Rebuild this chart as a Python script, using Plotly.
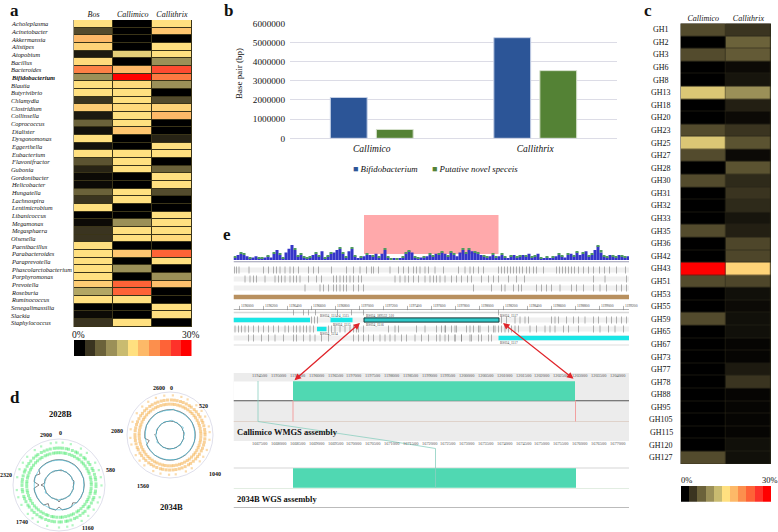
import numpy as np
import plotly.graph_objects as go

W, H = 778, 532
SERIF = "Liberation Serif"

# ---- panel a: genus abundance (%)
genera = ["Acholeplasma", "Acinetobacter", "Akkermansia", "Alistipes", "Atopobium", "Bacillus", "Bacteroides",
          "Bifidobacterium", "Blautia", "Butyrivibrio", "Chlamydia", "Clostridium", "Collinsella", "Coprococcus",
          "Dialister", "Dysgonomonas", "Eggerthella", "Eubacterium", "Flavonifractor", "Gubonia", "Gordonibacter",
          "Helicobacter", "Hungatella", "Lachnospira", "Lentimicrobium", "Libanicoccus", "Megamonas", "Megasphaera",
          "Olsenella", "Paenibacillus", "Parabacteroides", "Paraprevotella", "Phascolarctobacterium", "Porphyromonas",
          "Prevotella", "Roseburia", "Ruminococcus", "Senegalimassilia", "Slackia", "Staphylococcus"]
hosts_a = ["Bos", "Callimico", "Callithrix"]
bos = [15, 4.5, 18, 16, 1.5, 15.5, 22, 9, 15, 15, 3, 16.5, 1.5, 6, 1, 15, 1, 15, 5, 2, 0.6, 0.6, 6, 3, 15, 0, 0.6, 3,
       3, 15, 15, 15, 15, 15, 16.5, 10.5, 15, 0, 0.6, 3]
callimico_a = [0, 0, 0, 0, 13.5, 0, 18, 30, 15.5, 15, 15, 15.5, 15, 15, 17, 0, 0, 15, 15, 15, 0, 0, 15, 15, 0, 0, 9,
               15, 15, 0, 17, 0, 9, 0, 24, 24, 15, 0, 0, 15]
callithrix_a = [15, 17, 0, 15, 15, 9, 25.5, 22.5, 9, 0, 4.5, 16, 18, 0, 0, 2, 15, 15, 0, 6, 15, 15, 4.5, 0, 0, 15, 15,
                15, 15.5, 0, 24, 15, 0, 9, 17.5, 0, 0, 15, 15, 0]

# ---- panel b: assembled base pairs
hosts_b = ["Callimico", "Callithrix"]
bifido_bp = [2130000, 5250000]
novel_bp = [460000, 3530000]

# ---- panel c: glycoside hydrolase families (%)
gh_families = ["GH1", "GH2", "GH3", "GH6", "GH8", "GH13", "GH18", "GH20", "GH23", "GH25", "GH27", "GH28", "GH30", "GH31",
               "GH32", "GH33", "GH35", "GH36", "GH42", "GH43", "GH51", "GH53", "GH55", "GH59", "GH65", "GH67", "GH73",
               "GH77", "GH78", "GH88", "GH95", "GH105", "GH115", "GH120", "GH127"]
hosts_c = ["Callimico", "Callithrix"]
callimico_c = [4.5, 0, 4.5, 0, 0, 13, 0, 0, 4.5, 13, 4.5, 0, 4.5, 0, 0, 0, 4.5, 0, 0, 30, 4.5, 0, 0, 4.5, 0, 0, 0, 0, 0,
               0, 0, 0, 0, 0, 4.5]
callithrix_c = [3, 6, 5.5, 0.6, 1.2, 9, 1.8, 0.6, 3, 5, 0.6, 5, 2.4, 3, 2.4, 1.2, 1.8, 4.2, 4.2, 16, 4.2, 0.9, 0.6, 0.9,
                0.9, 0.3, 0.3, 1.5, 3, 0.3, 0.3, 0.3, 0.3, 0.9, 0.9]

scale_steps = [0, 3, 6, 9, 12, 15, 18, 21, 24, 27, 30]
scale_colors = ["#000000", "#3a3420", "#6b623a", "#9b9058", "#c9bb70", "#ffe080", "#fdb968", "#fc8f4d", "#fe6337",
                "#fe322a", "#ff0000"]

# ---- panel d: circular genome tracks, positions in kb
green_outer = [40, 130, 250, 330, 470, 560, 640, 730, 860, 920, 1010, 1100, 1190, 1300, 1360, 1450, 1580, 1690, 1760,
               1830, 1950, 2040, 2120, 2260, 2350, 2430, 2510, 2620, 2700, 2810, 2870]
green_mid = [10, 45, 90, 120, 170, 215, 240, 290, 340, 365, 420, 455, 510, 540, 590, 630, 660, 710, 745, 800, 830, 885,
             915, 960, 1010, 1035, 1090, 1125, 1170, 1215, 1250, 1300, 1340, 1365, 1420, 1450, 1505, 1540, 1580, 1620,
             1670, 1700, 1745, 1790, 1830, 1880, 1910, 1960, 2000, 2030, 2090, 2120, 2170, 2210, 2245, 2290, 2340, 2370,
             2420, 2460, 2500, 2550, 2590, 2620, 2670, 2710, 2750, 2790, 2840, 2875]
green_inner = [25, 70, 100, 150, 190, 230, 275, 310, 360, 395, 435, 480, 520, 555, 610, 645, 690, 725, 775, 815, 850,
               900, 940, 975, 1020, 1060, 1105, 1150, 1180, 1235, 1270, 1310, 1355, 1400, 1430, 1480, 1525, 1555, 1610,
               1640, 1685, 1725, 1770, 1810, 1850, 1895, 1940, 1975, 2020, 2065, 2100, 2150, 2190, 2225, 2275, 2310,
               2355, 2400, 2435, 2480, 2525, 2565, 2610, 2645, 2695, 2730, 2770, 2820, 2855, 2890]
orange_outer = [30, 120, 190, 300, 380, 450, 560, 620, 700, 810, 890, 950, 1060, 1130, 1240, 1310, 1400, 1480, 1590,
                1660, 1730, 1850, 1920, 2010, 2090, 2190, 2280, 2360, 2450, 2540]
orange_mid = [15, 50, 85, 125, 160, 200, 240, 270, 315, 350, 390, 425, 470, 500, 540, 585, 620, 650, 695, 735, 770, 810,
              845, 890, 925, 960, 1000, 1040, 1070, 1115, 1155, 1190, 1230, 1265, 1305, 1345, 1385, 1415, 1460, 1500,
              1535, 1570, 1615, 1650, 1690, 1725, 1770, 1800, 1845, 1885, 1920, 1955, 2000, 2035, 2075, 2110, 2150, 2190,
              2225, 2265, 2300, 2345, 2380, 2420, 2455, 2495, 2530, 2570]
orange_inner = [30, 65, 105, 140, 180, 215, 255, 295, 330, 370, 405, 445, 485, 520, 560, 600, 635, 675, 715, 750, 790,
                825, 865, 905, 940, 980, 1020, 1055, 1095, 1135, 1170, 1210, 1250, 1285, 1325, 1365, 1400, 1440, 1480,
                1515, 1555, 1595, 1630, 1670, 1710, 1745, 1785, 1825, 1860, 1900, 1940, 1975, 2015, 2055, 2090, 2130,
                2170, 2205, 2245, 2285, 2320, 2360, 2400, 2435, 2475, 2515, 2550, 2590]

gc_a_black = [25.3, 25.4, 25.3, 25.4, 25.3, 25.5, 25.4, 25.3, 25.4, 25.2, 25.3, 25.2, 25.3, 25.1, 25.2, 25.0, 25.2, 25.0,
              25.2, 22.5, 25.2, 25.1, 25.2, 25.0, 22, 25.2, 25.1, 25.2, 21.5, 25.2, 25.3, 25.2, 25.3, 25.1, 25.3, 25.2,
              20, 25.2, 25.3, 25.2, 22, 25.3, 25.4, 25.3, 25.4, 25.3, 25.4, 25.4]
gc_a_blue = [24.9, 25.0, 24.8, 24.9, 24.8, 24.9, 25.0, 24.8, 24.9, 24.8, 25.6, 24.8, 24.9, 24.8, 25.4, 24.8, 24.9, 24.8,
             24.9, 24.7, 24.8, 25.3, 24.8, 24.9, 24.8, 24.9, 24.7, 24.8, 24.8, 24.9, 25.5, 24.8, 24.9, 24.8, 24.9, 24.8,
             24.8, 24.7, 24.9, 24.8, 24.9, 24.8, 25.2, 24.8, 24.9, 24.8, 24.9, 24.8]
skew_a_black = [14.8, 14.4, 14.9, 14.5, 14.7, 14.3, 14.8, 14.5, 14.7, 14.4, 15.6, 14.5, 14.7, 14.3, 14.8, 14.4, 14.7,
                14.5, 14.8, 14.4, 14.9, 14.4, 14.7, 14.5, 17, 14.4, 14.7, 14.5, 14.8, 14.3, 14.7, 14.5, 14.7, 14.4,
                14.9, 14.5, 18, 14.5, 14.7, 14.4, 14.8, 14.5, 14.7, 14.5, 14.9, 14.3, 14.7, 14.5]
skew_a_blue = [14.6, 15.8, 14.7, 14.4, 15.2, 14.6, 14.4, 14.9, 14.7, 14.3, 14.6, 15.7, 14.5, 14.4, 15.1, 14.7, 14.4,
               14.7, 15.4, 14.5, 14.3, 14.8, 14.7, 14.4, 14.6, 15.6, 14.5, 14.4, 14.9, 14.7, 14.3, 14.6, 15.9, 14.6,
               14.4, 15.0, 14.6, 14.3, 14.8, 15.5, 14.5, 14.3, 14.8, 14.7, 14.4, 15.2, 14.7, 14.4]
gc_b_black = [27.1, 27.2, 27.0, 27.2, 27.1, 27.2, 27.1, 27.2, 27.0, 27.1, 27.0, 27.1, 27.0, 27.1, 26.9, 27.0, 26.9, 27.0,
              26.9, 27.0, 26.9, 27.0, 26.9, 27.0, 26.9, 27.0, 26.9, 27.0, 26.9, 27.0, 26.9, 27.0, 27.0, 27.1, 23, 27.1,
              27.0, 27.1, 27.0, 27.2, 27.1, 27.2, 27.1, 27.2, 27.1, 27.2, 27.1, 27.2]
gc_b_blue = [26.6, 27.8, 26.6, 26.5, 26.6, 26.5, 26.6, 26.5, 27.3, 26.5, 26.6, 26.5, 26.6, 26.5, 27.2, 26.5, 26.6, 26.5,
             26.6, 26.5, 26.5, 26.6, 27.0, 26.5, 26.6, 26.5, 26.6, 26.5, 26.5, 27.1, 26.6, 26.5, 26.6, 26.5, 26.5, 26.6,
             26.5, 26.6, 26.5, 27.2, 26.5, 26.6, 26.5, 26.6, 27.4, 26.5, 26.6, 26.5]
skew_b_black = [15.0, 14.6, 15.1, 14.7, 14.9, 14.5, 15.0, 14.7, 14.9, 14.6, 15.0, 14.7, 14.9, 14.5, 15.0, 14.6, 14.8,
                14.7, 15.0, 14.6, 15.1, 14.6, 14.9, 14.7, 15.0, 14.6, 14.9, 14.7, 15.0, 14.5, 14.9, 14.7, 14.8, 14.6,
                15.0, 14.7, 16.5, 14.7, 14.9, 14.6, 15.0, 14.7, 14.9, 14.7, 15.1, 14.5, 14.9, 14.7]
skew_b_blue = [14.8, 16.0, 15.0, 14.6, 15.5, 14.8, 14.6, 15.2, 16.4, 14.5, 14.8, 15.9, 14.7, 14.6, 15.4, 14.9, 14.6,
               15.0, 15.6, 14.7, 14.5, 15.1, 15.0, 14.6, 14.8, 15.8, 14.7, 14.6, 15.2, 15.0, 14.5, 14.8, 16.1, 14.8,
               14.6, 15.3, 14.8, 14.5, 15.0, 15.7, 14.7, 14.5, 15.0, 15.0, 14.6, 15.5, 14.9, 14.6]

# ---- panel e: browser tracks
coverage_blue = [2, 4, 5, 4, 3, 1, 2, 3, 1, 1, 2, 3, 2, 5, 8, 4, 1, 6, 9, 12, 8, 3, 4, 2, 1, 2, 4, 5, 3, 7, 1,
                 3, 5, 6, 8, 9, 5, 2, 7, 9, 3, 1, 2, 3, 4, 4, 3, 5, 2, 5, 8, 2, 0, 1, 0, 1, 2, 5, 7, 6, 2, 1, 2,
                 2, 3, 4, 3, 5, 4, 6, 5, 3, 6, 4, 3, 6, 8, 5, 8, 7, 6, 5, 4, 3, 2, 3, 4, 2, 3, 4, 2, 1,
                 3, 4, 2, 3, 4, 3, 5, 2, 3, 5, 1, 1, 2, 1, 2, 3, 4, 3, 2, 4, 5, 3, 6, 4, 5, 7, 3, 4, 8, 11, 6, 3,
                 2, 4, 3, 2, 4, 3, 2, 3]
coverage_green = [1, 0, 1, 1, 0, 1, 0, 0, 1, 1, 0, 1, 0, 1, 0, 1, 1, 0, 0, 0, 1, 1, 1, 1, 1, 1, 0, 1, 1, 0, 1,
                  1, 1, 0, 0, 1, 1, 1, 0, 1, 1, 0, 1, 0, 1, 0, 1, 0, 1, 0, 1, 1, 1, 0, 1, 0, 1, 1, 1, 0, 1, 1, 0,
                  1, 0, 1, 1, 0, 1, 1, 0, 1, 1, 1, 0, 0, 1, 1, 1, 0, 1, 1, 0, 1, 1, 0, 1, 1, 0, 1, 1, 0,
                  1, 0, 1, 1, 0, 1, 0, 1, 1, 0, 1, 0, 1, 0, 1, 0, 1, 1, 0, 1, 0, 1, 1, 0, 1, 0, 1, 1, 0, 1, 2, 1,
                  1, 0, 1, 1, 0, 1, 1, 0]

reads_1 = [1, 3, 5.5, 15.5, 30, 35, 40, 43, 46.5, 51.5, 56.5, 60, 65, 75, 80, 85, 98, 113, 120, 126.5, 133, 138, 140,
           145, 156.5, 165, 170, 175, 180, 183, 186.5, 191.5, 195, 201.5, 210, 225, 231.5, 236.5, 240, 245, 250, 265,
           268, 271, 274, 277, 280, 283, 286, 289, 293, 296, 300, 303, 310, 323, 326, 329, 332, 335, 338, 341, 345,
           350, 355, 360, 366, 371, 376, 383, 392]
reads_2 = [11.5, 16.5, 20, 23, 31.5, 41.5, 45, 48, 51.5, 56.5, 60, 63, 66.5, 75, 83, 88, 100, 103, 106.5, 110, 113,
           116.5, 120, 125, 128, 161.5, 166.5, 171.5, 175, 180, 185, 191.5, 196.5, 200, 203, 206.5, 211.5, 218, 223,
           228, 234, 238, 248, 255, 260, 265, 275, 283, 291, 360, 371.5, 393]
reads_3 = [71.5, 86.5, 90, 95, 100, 103, 106.5, 110, 113, 120, 125, 130, 240, 258, 268, 271.5, 280, 285, 288, 303, 308,
           313, 318, 326.5, 338, 343, 350, 360, 366.5, 373, 383, 388, 393]
genes_1 = [78, 81, 84, 268, 273, 281.5, 286.5, 291.5, 295, 318, 321.5, 325, 333, 340, 345, 351.5, 360, 365, 373, 378,
           383, 388, 393]
genes_2 = [1.5, 5, 8, 11.5, 15, 20, 25, 30, 35, 40, 45, 51.5, 55, 60, 63, 66.5, 70, 73, 76.5, 80, 95, 98, 101.5, 106.5,
           111.5, 116.5, 120, 123, 125, 130, 155, 161.5, 165, 183, 191.5, 211.5, 221.5, 236.5, 245, 255, 261.5, 265,
           268, 275, 281.5, 285, 203, 208, 212, 218, 223, 233, 240, 246.5, 260, 271.5, 278, 296.5, 303, 311.5, 316.5,
           321.5, 330, 335, 345, 360, 366.5, 375, 381.5, 390]
genes_3 = [15, 20, 28, 35, 41.5, 50, 60, 63, 70, 76.5, 81.5, 88, 95, 120, 125, 130, 135, 140, 146.5, 151.5, 156.5,
           161.5, 168, 173, 181.5, 188, 195, 203, 211.5, 221.5, 228, 238, 245, 255, 206.5, 215, 221.5, 228, 236.5, 248,
           258]
small_boxes = [60, 70, 75, 82, 104, 118, 130, 265]
cyan_start = [0, 97, 83.5, 265]
cyan_end = [76.5, 119, 93, 395.5]
cyan_row = [105, 105, 114, 123]
block_start = [130.5]
block_end = [265.5]
block_row = [105]
synteny_start = [59.5, 59.5]
synteny_end = [341.5, 342.5]
synteny_row = [176, 263]
wmgs_ticks = ["1194000", "1194500", "1195000", "1195500", "1196000", "1196500", "1197000", "1197500", "1198000",
              "1198500", "1199000", "1199500", "1200000", "1200500", "1201000", "1201500", "1202000", "1202500",
              "1203000", "1203500", "1204000"]
wgs_ticks = ["1667000", "1667500", "1668000", "1668500", "1669000", "1669500", "1670000", "1670500", "1671000",
             "1671500", "1672000", "1672500", "1673000", "1673500", "1674000", "1674500", "1675000", "1675500",
             "1676000", "1676500", "1677000"]
ruler_ticks = ["1196000", "1196200", "1196400", "1196600", "1196800", "1197000", "1197200", "1197400", "1197600",
               "1197800", "1198000", "1198200", "1198400", "1198600", "1198800", "1199000", "1199200"]
gene_names = ["162_151", "BS034_1514-4_1515", "BS034_189532_510", "BS034_1517", "54_1515", "BS034_1515", "BS034_1516",
              "152", "BS034_1514", "BS034_1517"]
gene_name_x = [-0.5, 85, 131, 265, -0.5, 98, 131, -0.5, 85, 265]
gene_name_y = [101, 101, 101, 101, 110, 110, 110, 119, 119, 128]


def xdom(a, b):
    return [a / W, b / W]


def ydom(top, bottom):
    return [1 - bottom / H, 1 - top / H]


def px(x):
    return x / W


def py(y):
    return 1 - y / H


def text(x, y, s, size=8, bold=False, italic=False, anchor="center", color="#111", xref="paper", yref="paper"):
    if bold:
        s = "<b>" + s + "</b>"
    if italic:
        s = "<i>" + s + "</i>"
    return dict(x=x, y=y, text=s, showarrow=False, xref=xref, yref=yref, xanchor=anchor, yanchor="middle",
                borderpad=0, font=dict(family=SERIF, size=size, color=color))


colorscale = [[s / 30, c] for s, c in zip(scale_steps, scale_colors)]
fig = go.Figure()
hidden = dict(visible=False, fixedrange=True, automargin=False)
annos = []
shapes = []

# panel a
fig.add_trace(go.Heatmap(z=np.array([bos, callimico_a, callithrix_a]).T, x=hosts_a, y=genera, zmin=0, zmax=30,
                         colorscale=colorscale, showscale=False, xgap=1, ygap=1, xaxis="x", yaxis="y"))
for g in genera:
    annos.append(text(px(9.5), g, g, size=6.4, italic=True, bold=g == "Bifidobacterium", anchor="left", yref="y"))
shapes.append(dict(type="rect", xref="paper", yref="paper", x0=px(73.5), x1=px(192), y0=py(20), y1=py(327),
                   fillcolor="#3a3418", line_width=0, layer="below"))

# colour key for a
fig.add_trace(go.Heatmap(z=[scale_steps], zmin=0, zmax=30, colorscale=colorscale, showscale=False, xaxis="x2", yaxis="y2"))
annos += [text(px(78.5), py(334.5), "0%", size=9.5), text(px(191), py(334.5), "30%", size=9.5)]

# panel b
fig.add_trace(go.Bar(x=hosts_b, y=bifido_bp, name="Bifidobacterium", marker=dict(color="#2c5597", line=dict(color="#c5d0e6", width=1)),
                     xaxis="x3", yaxis="y3"))
fig.add_trace(go.Bar(x=hosts_b, y=novel_bp, name="Putative novel speceis", marker=dict(color="#548235", line=dict(color="#d5e0cc", width=1)),
                     xaxis="x3", yaxis="y3"))
annos.append(text(px(239), py(74), "Base pair (bp)", size=9))
annos[-1]["textangle"] = -90
annos.append(text(px(352), py(169), "<span style='color:#2c5597'>■</span> <i>Bifidobacterium</i>", size=8.8, anchor="left"))
annos.append(text(px(431.5), py(169), "<span style='color:#548235'>■</span> <i>Putative novel speceis</i>", size=8.8, anchor="left"))

# panel c
fig.add_trace(go.Heatmap(z=np.array([callimico_c, callithrix_c]).T, x=hosts_c, y=gh_families, zmin=0, zmax=30,
                         colorscale=colorscale, showscale=False, xgap=0.6, ygap=0.6, xaxis="x4", yaxis="y4"))
for g in gh_families:
    annos.append(text(px(661), g, g, size=8, yref="y4"))
shapes.append(dict(type="rect", xref="paper", yref="paper", x0=px(680.5), x1=px(771), y0=py(23.5), y1=py(464),
                   fillcolor="#2a2718", line_width=0, layer="below"))
fig.add_trace(go.Heatmap(z=[scale_steps], zmin=0, zmax=30, colorscale=colorscale, showscale=False, xaxis="x5", yaxis="y5"))
annos += [text(px(686), py(480), "0%", size=8.5), text(px(770), py(480), "30%", size=8.5)]


# panel d
def ring(sub, values, color, width=0.55):
    closed = list(values) + [values[0]]
    theta = np.linspace(0, 360, len(closed))
    fig.add_trace(go.Scatterpolar(r=closed, theta=theta, mode="lines", line=dict(color=color, width=width),
                                  subplot=sub, hoverinfo="skip"))


def genes(sub, positions, r, genome, color, size, opacity):
    fig.add_trace(go.Scatterpolar(r=[r] * len(positions), theta=[p * 360 / genome for p in positions], mode="markers",
                                  marker=dict(symbol="square", size=size, color=color, opacity=opacity, line_width=0),
                                  subplot=sub, hoverinfo="skip"))


genes("polar", green_outer, 42.5, 2900, "#55ea78", 2.2, 0.45)
genes("polar", green_mid, 37, 2900, "#3fe866", 3, 0.5)
genes("polar", green_inner, 32.3, 2900, "#3fe866", 3, 0.5)
ring("polar", gc_a_black, "#222")
ring("polar", gc_a_blue, "#29b6d8")
ring("polar", skew_a_black, "#222")
ring("polar", skew_a_blue, "#29b6d8")
genes("polar2", orange_outer, 42.5, 2600, "#f5b04a", 2.2, 0.45)
genes("polar2", orange_mid, 37.5, 2600, "#f3a535", 3, 0.5)
genes("polar2", orange_inner, 33, 2600, "#f3a535", 3, 0.5)
ring("polar2", gc_b_black, "#222")
ring("polar2", gc_b_blue, "#29b6d8")
ring("polar2", skew_b_black, "#222")
ring("polar2", skew_b_blue, "#29b6d8")
for x, y, s in [(60, 433, "0"), (46, 435, "2900"), (110, 470, "580"), (88, 528, "1160"), (22, 522, "1740"), (6, 475, "2320"),
                (159, 388, "2600"), (171, 388, "0"), (203, 406, "520"), (215, 474, "1040"), (143, 486, "1560"), (117, 431, "2080")]:
    annos.append(text(px(x), py(y), s, size=6, bold=True))
annos += [text(px(60), py(414), "2028B", size=8.5, bold=True), text(px(171), py(507), "2034B", size=8.5, bold=True)]

# panel e, x is position along the window, y counts down from the top of the panel
fig.add_trace(go.Bar(x=np.arange(len(coverage_blue)) * 3, y=coverage_blue, width=3, offset=0, marker=dict(color="#3535c8", line_width=0),
                     xaxis="x7", yaxis="y7"))
fig.add_trace(go.Bar(x=np.arange(len(coverage_blue)) * 3, y=coverage_green, base=coverage_blue, width=3, offset=0,
                     marker=dict(color="#4f9a60", line_width=0), xaxis="x7", yaxis="y7"))


def band(y, height, color):
    shapes.append(dict(type="rect", xref="x6", yref="y6", x0=0, x1=395.5, y0=y - height / 2, y1=y + height / 2,
                       fillcolor=color, line_width=0, layer="below"))


def ticks(positions, row, color="#777777", size=5):
    fig.add_trace(go.Scatter(x=positions, y=[row] * len(positions), mode="markers", xaxis="x6", yaxis="y6", hoverinfo="skip",
                             marker=dict(symbol="line-ns", size=size, line=dict(color=color, width=0.8), opacity=0.7)))


shapes.append(dict(type="rect", xref="x6", yref="y6", x0=130.5, x1=265, y0=0, y1=39, fillcolor="#ffa9ab", line_width=0, layer="below"))
band(46.7, 1, "#9a9ab0")
for row in (55, 64, 73, 105, 114, 123):
    band(row, 5, "#f0f0f0")
band(82, 4.5, "#b8905f")
band(94.3, 0.7, "#999999")
band(97.5, 1.5, "#d8d8d8")
band(130, 0.7, "#bbbbbb")
ticks(reads_1, 55)
ticks(reads_2, 64)
ticks(reads_3, 73)
ticks(genes_1, 105)
ticks(genes_2, 114)
ticks(genes_3, 123)
ticks(small_boxes, 97.5, size=4)
ticks(np.arange(len(ruler_ticks)) * 24 + 6, 93, size=3)

fig.add_trace(go.Bar(y=cyan_row, x=np.array(cyan_end) - np.array(cyan_start), base=cyan_start, orientation="h", width=4.5, offset=-2.25,
                     marker=dict(color="#19e6e6", line_width=0), xaxis="x6", yaxis="y6"))
fig.add_trace(go.Bar(y=block_row, x=np.array(block_end) - np.array(block_start), base=block_start, orientation="h", width=4.2, offset=-2.1,
                     marker=dict(color="#2fc8c8", line=dict(color="#153a3a", width=1)), xaxis="x6", yaxis="y6"))

for name, gx, gy in zip(gene_names, gene_name_x, gene_name_y):
    annos.append(text(gx, gy, name, size=3.4, anchor="left", color="#444", xref="x6", yref="y6"))
for i, lab in enumerate(ruler_ticks):
    annos.append(text(i * 24 + 6.5, 90.5, lab, size=3.6, anchor="left", color="#444", xref="x6", yref="y6"))

# alignment views
shapes.append(dict(type="rect", xref="x6", yref="y6", x0=0, x1=395.5, y0=158, y1=226, fillcolor="#ececec", line_width=0, layer="below"))
shapes.append(dict(type="rect", xref="x6", yref="y6", x0=0, x1=59.5, y0=166.5, y1=185.5, fillcolor="#ffffff", line_width=0, layer="below"))
band(185.7, 0.9, "#555555")
band(206.5, 0.6, "#d2b8a8")
band(253, 0.7, "#aaaaaa")
band(273.5, 0.6, "#c5dcc5")
band(292.5, 0.8, "#bbbbbb")
fig.add_trace(go.Bar(y=synteny_row, x=np.array(synteny_end) - np.array(synteny_start), base=synteny_start, orientation="h", width=19.5, offset=-9.75,
                     marker=dict(color="#50d8b2", line_width=0), xaxis="x6", yaxis="y6"))
fig.add_trace(go.Scatter(x=[24.5, 24.5, 149.5, 202, 202], y=[166, 206.5, 225, 233.5, 273], mode="lines",
                         line=dict(color="#8ccfc0", width=0.8), xaxis="x6", yaxis="y6", hoverinfo="skip"))
for bx in (59.5, 342):
    fig.add_trace(go.Scatter(x=[bx, bx], y=[185.5, 206.5], mode="lines", line=dict(color="#f2a0a0", width=1),
                             xaxis="x6", yaxis="y6", hoverinfo="skip"))
for i, lab in enumerate(wmgs_ticks):
    annos.append(text(i * 18.8 - 1, 160.5, lab, size=4.4, anchor="left", color="#555", xref="x6", yref="y6"))
for i, lab in enumerate(wgs_ticks):
    annos.append(text(i * 18.8 - 1, 228.5, lab, size=4.4, anchor="left", color="#555", xref="x6", yref="y6"))
annos.append(text(2.5, 217, "Callimico WMGS assembly", size=8.5, bold=True, anchor="left", xref="x6", yref="y6"))
annos.append(text(2.5, 284, "2034B WGS assembly", size=8.5, bold=True, anchor="left", xref="x6", yref="y6"))

for head, tail in [((126.5, 108), (59.5, 166.5)), ((269.5, 108), (341.5, 165))]:
    annos.append(dict(x=head[0], y=head[1], ax=tail[0], ay=tail[1], xref="x6", yref="y6", axref="x6", ayref="y6", text="",
                      showarrow=True, arrowhead=2, arrowside="end+start", arrowsize=1, arrowwidth=1.3, arrowcolor="#e0242a"))

for x, y, s in [(14, 10, "a"), (228, 10, "b"), (648, 10, "c"), (15, 397, "d"), (227, 235, "e")]:
    annos.append(text(px(x), py(y), s, size=17, bold=True))

polar_base = dict(bgcolor="rgba(0,0,0,0)",
                  angularaxis=dict(rotation=90, direction="clockwise", showticklabels=False, ticks="", showgrid=False,
                                   showline=True, linecolor="#c9c9dd", linewidth=0.6),
                  radialaxis=dict(visible=False, range=[0, 46]))
polar_a = dict(polar_base, domain=dict(x=xdom(13, 105), y=ydom(439, 531)))
polar_b = dict(polar_base, domain=dict(x=xdom(127, 213), y=ydom(392, 478)))

grid = "#dcdce6"
fig.update_layout(
    width=W, height=H, autosize=False, margin=dict(l=0, r=0, t=0, b=0), showlegend=False,
    paper_bgcolor="white", plot_bgcolor="rgba(0,0,0,0)",
    barmode="group", bargap=0.437, bargroupgap=0.2,
    annotations=annos, shapes=shapes,
    xaxis=dict(domain=xdom(74, 191.5), anchor="y", side="top", ticks="", showgrid=False, zeroline=False, fixedrange=True,
               automargin=False, tickangle=0, range=[-0.5, 2.5], tickfont=dict(family=SERIF, size=8, style="italic", color="#111")),
    yaxis=dict(domain=ydom(20, 326.7), anchor="x", range=[len(genera) - 0.5, -0.5], showticklabels=False, ticks="",
               showgrid=False, fixedrange=True, type="category", automargin=False),
    xaxis2=dict(hidden, domain=xdom(74, 191.5), anchor="y2", range=[-0.5, 10.5]),
    yaxis2=dict(hidden, domain=ydom(340, 356), anchor="x2", range=[-0.5, 0.5]),
    xaxis3=dict(domain=xdom(290, 617), anchor="y3", showgrid=False, showline=False, ticks="", fixedrange=True, automargin=False,
                ticklabelstandoff=3, tickfont=dict(family=SERIF, size=9.5, style="italic", color="#111")),
    yaxis3=dict(domain=ydom(23.3, 138.3), anchor="x3", range=[0, 6000000], automargin=False,
                tickvals=[0, 1000000, 2000000, 3000000, 4000000, 5000000, 6000000], ticklabelstandoff=4,
                tickformat="d", gridcolor=grid, gridwidth=1, zeroline=True, zerolinecolor=grid, zerolinewidth=1, fixedrange=True,
                tickfont=dict(family=SERIF, size=9.2, color="#111"), ticks="", ticklen=0),
    xaxis4=dict(domain=xdom(680.7, 771), anchor="y4", side="top", ticks="", showgrid=False, zeroline=False, fixedrange=True,
                automargin=False, tickangle=0, range=[-0.5, 1.5], tickfont=dict(family=SERIF, size=8, style="italic", color="#111")),
    yaxis4=dict(domain=ydom(23.5, 464), anchor="x4", range=[len(gh_families) - 0.5, -0.5], showticklabels=False, ticks="",
                showgrid=False, fixedrange=True, type="category", automargin=False),
    xaxis5=dict(hidden, domain=xdom(681, 771), anchor="y5", range=[-0.5, 10.5]),
    yaxis5=dict(hidden, domain=ydom(486, 501.7), anchor="x5", range=[-0.5, 0.5]),
    xaxis6=dict(hidden, domain=xdom(233.5, 629), anchor="y6", range=[0, 395.5]),
    yaxis6=dict(hidden, domain=ydom(215, 510), anchor="x6", range=[295, 0]),
    xaxis7=dict(hidden, domain=xdom(233.5, 629), anchor="y7", range=[0, 395.5]),
    yaxis7=dict(hidden, domain=ydom(245, 260), anchor="x7", range=[0, 12]),
    polar=polar_a, polar2=polar_b,
)

fig.write_html("out.html", post_script="document.body.style.margin='0'", config={"displayModeBar": False})
